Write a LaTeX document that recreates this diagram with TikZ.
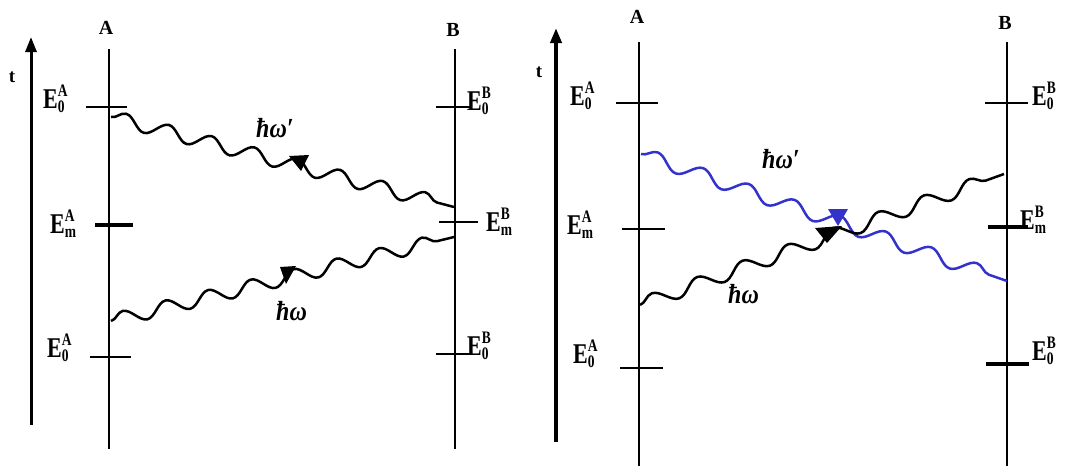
\documentclass[tikz,border=0pt]{standalone}
\usepackage{fontspec}
\setmainfont{Liberation Serif}
\usetikzlibrary{arrows.meta,decorations.pathmorphing}
\definecolor{wblue}{RGB}{51,51,204}
\newcommand{\En}[2]{\scalebox{1}[1.3]{\fontsize{22}{22}\selectfont\bfseries E\makebox[0pt][l]{\raisebox{9pt}{\fontsize{13.5}{13.5}\selectfont\bfseries #2}}\raisebox{-3.6pt}{\fontsize{13.5}{13.5}\selectfont\bfseries #1}}}
\newcommand{\Hw}[1]{\scalebox{1}[1.15]{\fontsize{24}{24}\selectfont\bfseries\itshape ħω#1}}
\tikzset{
  vline/.style={line width=2.5pt},
  tick/.style={line width=2pt},
  thicktick/.style={line width=4.5pt},
  tarrow/.style={line width=3pt,-{Triangle[width=11pt,length=15pt]}},
  lbl/.style={anchor=base west,inner sep=0pt},
  head/.style={font=\fontsize{20}{20}\selectfont\bfseries,anchor=base,inner sep=0pt},
  tlbl/.style={font=\fontsize{19}{19}\selectfont\bfseries,anchor=base,inner sep=0pt},
  hw/.style={anchor=base west,inner sep=0pt},
  photon/.style={line width=2.5pt,decorate,decoration={snake,amplitude=7pt,segment length=#1,pre length=0pt,post length=0pt}},
}
\begin{document}
\begin{tikzpicture}[x=1pt,y=-1pt]
\useasboundingbox (0,0) rectangle (1067,466);
% ---------- left panel ----------
\coordinate (tL0) at (31,425); \coordinate (tL1) at (31,37);
\draw[tarrow] (tL0) -- (tL1);
\node[tlbl] (tLl) at (12,82) {t};
\coordinate (LA0) at (109,49); \coordinate (LA1) at (109,449);
\coordinate (LB0) at (455,49); \coordinate (LB1) at (455,449);
\draw[vline] (LA0) -- (LA1);
\draw[vline] (LB0) -- (LB1);
\node[head] (LAl) at (106,34) {A};
\node[head] (LBl) at (453,36) {B};
% ticks A
\draw[tick] (86,107) -- (127,107);
\draw[thicktick] (95,225) -- (133,225);
\draw[tick] (90,357) -- (131,357);
% ticks B
\draw[tick] (436,107) -- (471,107);
\draw[tick] (439,222) -- (478,222);
\draw[tick] (436,354) -- (471,354);
% labels
\node[lbl] (l1) at (43,108) {\En{0}{A}};
\node[lbl] (l2) at (50,233) {\En{m}{A}};
\node[lbl] (l3) at (47,357) {\En{0}{A}};
\node[lbl] (l4) at (467,110) {\En{0}{B}};
\node[lbl] (l5) at (486,231) {\En{m}{B}};
\node[lbl] (l6) at (467,355) {\En{0}{B}};
% photons
\coordinate (pa1) at (111,117); \coordinate (pb1) at (454,207);
\coordinate (pa2) at (111,321); \coordinate (pb2) at (454,237);
\draw[photon=44.2pt] (pa1) -- (pb1);
\draw[photon=44.0pt] (pa2) -- (pb2);
\fill (289,156) -- (309,155) -- (301,171) -- cycle;
\fill (280,267) -- (296,266) -- (286,284) -- cycle;
\node[hw] (w1) at (256,137) {\Hw{′}};
\node[hw] (w2) at (276,320) {\Hw{}};
% ---------- right panel ----------
\coordinate (tR0) at (556,442); \coordinate (tR1) at (556,28);
\draw[tarrow,line width=4.5pt] (tR0) -- (tR1);
\node[tlbl] (tRl) at (539,77) {t};
\coordinate (RA0) at (639,42); \coordinate (RA1) at (639,466);
\coordinate (RB0) at (1007,42); \coordinate (RB1) at (1007,466);
\draw[vline] (RA0) -- (RA1);
\draw[vline] (RB0) -- (RB1);
\node[head] (RAl) at (637,23) {A};
\node[head] (RBl) at (1005,29) {B};
% ticks A
\draw[tick] (616,103) -- (658,103);
\draw[tick] (622,229) -- (665,229);
\draw[tick] (620,368) -- (663,368);
% ticks B
\draw[tick] (985,103) -- (1028,103);
\draw[thicktick] (988,227) -- (1028,227);
\draw[thicktick] (986,364) -- (1029,364);
% labels
\node[lbl] (r1) at (570,105) {\En{0}{A}};
\node[lbl] (r2) at (567,234) {\En{m}{A}};
\node[lbl] (r3) at (573,363) {\En{0}{A}};
\node[lbl] (r4) at (1032,105) {\En{0}{B}};
\node[lbl] (r5) at (1020,229) {\En{m}{B}};
\node[lbl] (r6) at (1032,360) {\En{0}{B}};
% photons
\coordinate (pa3) at (641,154); \coordinate (pb3) at (1007,281);
\coordinate (pa4) at (640,305); \coordinate (pb4) at (1004,174);
\draw[photon=48.3pt,wblue] (pa3) -- (pb3);
\draw[photon=48.2pt] (pa4) -- (pb4);
\fill[wblue] (828,209) -- (848,209) -- (838,226) -- cycle;
\fill (815,228) -- (842,226) -- (827,243) -- cycle;
\node[hw] (w3) at (762,168) {\Hw{′}};
\node[hw] (w4) at (728,303) {\Hw{}};
\end{tikzpicture}
\end{document}
